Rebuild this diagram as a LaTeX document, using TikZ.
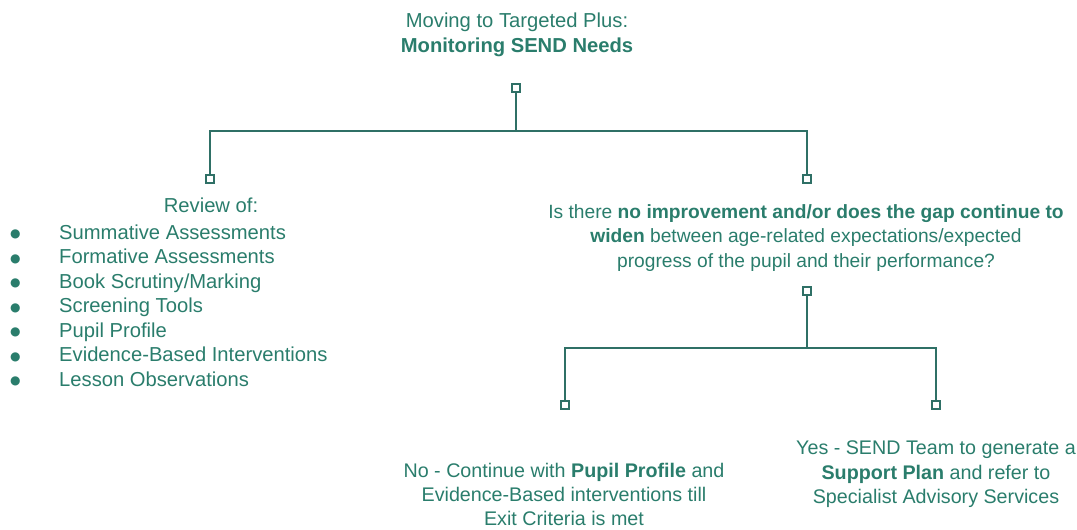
\documentclass[tikz,border=0pt]{standalone}
\usepackage{fontspec}
\setmainfont{Liberation Sans}
\newfontfamily\dejavu{DejaVu Sans}
\definecolor{teal1}{RGB}{42,125,108}
\definecolor{line1}{RGB}{47,112,102}
\newcommand{\bul}{{\dejavu\fontsize{12}{12}\selectfont\raisebox{1.5pt}{●}}}
\begin{document}
\begin{tikzpicture}[x=1pt,y=-1pt,
  txt/.style={inner sep=0pt,align=center,text=teal1,font=\fontsize{20.2}{24.5}\selectfont},
  sq/.style={draw=line1,line width=1.6pt,fill=white,minimum size=8pt,inner sep=0pt},
  conn/.style={draw=line1,line width=1.6pt}]
\useasboundingbox (0,0) rectangle (1077,530);
% texts
\node[txt,anchor=north] (title) at (517,13) {Moving to Targeted Plus:\\\textbf{Monitoring SEND Needs}};
\node[txt,anchor=north] (review) at (211,198) {Review of:};
\node[txt,anchor=north west,align=left] (list) at (10,222) {%
\begin{tabular}{@{}p{49pt}@{}l@{}}
\bul & Summative Assessments\\
\bul & Formative Assessments\\
\bul & Book Scrutiny/Marking\\
\bul & Screening Tools\\
\bul & Pupil Profile\\
\bul & Evidence-Based Interventions\\
\bul & Lesson Observations
\end{tabular}};
\node[txt,anchor=north,font=\fontsize{19.2}{24.5}\selectfont] (quest) at (806,204) {Is there \textbf{no improvement and/or does the gap continue to}\\\textbf{widen} between age-related expectations/expected\\progress of the pupil and their performance?};
\node[txt,anchor=north,font=\fontsize{19.7}{24}\selectfont] (no) at (564,463) {No - Continue with \textbf{Pupil Profile} and\\Evidence-Based interventions till\\Exit Criteria is met};
\node[txt,anchor=north,font=\fontsize{19.7}{24.5}\selectfont] (yes) at (936,441) {Yes - SEND Team to generate a\\\textbf{Support Plan} and refer to\\Specialist Advisory Services};
% connectors
\coordinate (j0) at (516,131);
\coordinate (j1) at (807,348);
\node[sq] (s0) at (516,88) {};
\node[sq] (s1) at (210,179) {};
\node[sq] (s2) at (807,179) {};
\node[sq] (s3) at (807,291) {};
\node[sq] (s4) at (565,405) {};
\node[sq] (s5) at (936,405) {};
\draw[conn] (s0.south) -- (j0);
\draw[conn] (s1.north) -- (s1.north |- j0) -- (s2.north |- j0) -- (s2.north);
\draw[conn] (s3.south) -- (j1);
\draw[conn] (s4.north) -- (s4.north |- j1) -- (s5.north |- j1) -- (s5.north);
\end{tikzpicture}
\end{document}
